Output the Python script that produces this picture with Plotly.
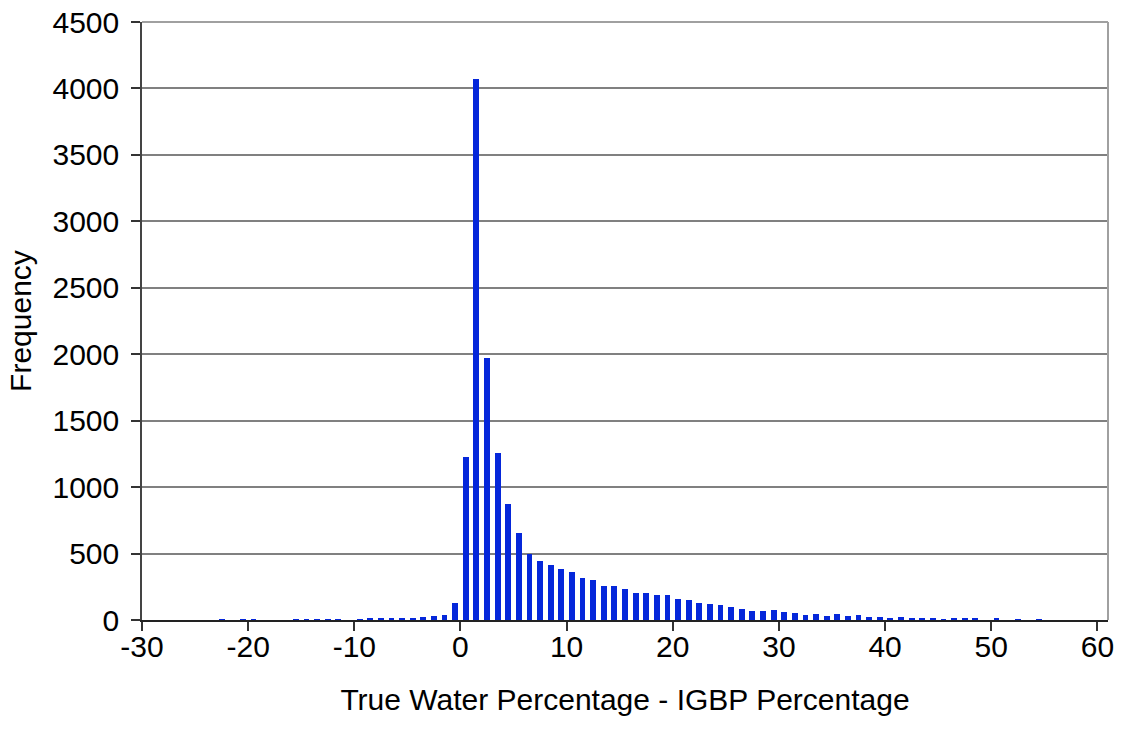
import plotly.graph_objects as go

# Bin centers (True Water % - IGBP %) and frequencies
bin_centers = [
    -22.5, -21.5, -20.5, -19.5, -18.5, -17.5, -16.5, -15.5, -14.5, -13.5,
    -12.5, -11.5, -10.5, -9.5, -8.5, -7.5, -6.5, -5.5, -4.5, -3.5,
    -2.5, -1.5, -0.5, 0.5, 1.5, 2.5, 3.5, 4.5, 5.5, 6.5,
    7.5, 8.5, 9.5, 10.5, 11.5, 12.5, 13.5, 14.5, 15.5, 16.5,
    17.5, 18.5, 19.5, 20.5, 21.5, 22.5, 23.5, 24.5, 25.5, 26.5,
    27.5, 28.5, 29.5, 30.5, 31.5, 32.5, 33.5, 34.5, 35.5, 36.5,
    37.5, 38.5, 39.5, 40.5, 41.5, 42.5, 43.5, 44.5, 45.5, 46.5,
    47.5, 48.5, 49.5, 50.5, 51.5, 52.5, 53.5, 54.5,
]
frequency = [
    3, 0, 3, 3, 0, 0, 0, 3, 3, 3,
    3, 3, 0, 4, 8, 10, 10, 12, 12, 20,
    30, 37, 130, 1230, 4070, 1970, 1255, 870, 654, 494,
    446, 413, 383, 358, 313, 300, 255, 255, 233, 205,
    200, 187, 187, 158, 150, 125, 123, 110, 95, 80,
    65, 68, 73, 58, 50, 37, 45, 30, 43, 30,
    37, 20, 20, 12, 20, 12, 12, 12, 6, 12,
    12, 10, 0, 10, 0, 5, 0, 5,
]

x_ticks = [-30, -20, -10, 0, 10, 20, 30, 40, 50, 60]
y_ticks = [0, 500, 1000, 1500, 2000, 2500, 3000, 3500, 4000, 4500]

x_title = "True Water Percentage - IGBP Percentage"
y_title = "Frequency"

fig = go.Figure()
fig.add_trace(go.Bar(
    x=bin_centers,
    y=frequency,
    width=0.55,
    marker=dict(color="#0527DA", line=dict(width=0)),
    showlegend=False,
))

font = dict(family="Liberation Sans, Arial, sans-serif", size=30, color="black")

fig.update_layout(
    width=1126,
    height=735,
    margin=dict(l=142, r=18, t=22, b=115),
    paper_bgcolor="white",
    plot_bgcolor="white",
    font=font,
    bargap=0,
    xaxis=dict(
        range=[-30, 61],
        tickvals=x_ticks,
        ticktext=[str(v) for v in x_ticks],
        ticks="outside",
        ticklen=9,
        tickwidth=1.5,
        tickcolor="#333333",
        showline=True,
        linecolor="#222222",
        linewidth=1.5,
        showgrid=False,
        zeroline=False,
        automargin=False,
        tickfont=font,
        ticklabelstandoff=-10,
        title=dict(text=x_title, font=font, standoff=27),
    ),
    yaxis=dict(
        range=[0, 4500],
        tickvals=y_ticks,
        ticktext=[str(v) for v in y_ticks],
        ticks="outside",
        ticklen=9,
        tickwidth=1.5,
        tickcolor="#333333",
        showline=True,
        linecolor="#444444",
        linewidth=1.5,
        showgrid=True,
        gridcolor="#808080",
        gridwidth=1.5,
        zeroline=False,
        automargin=False,
        tickfont=font,
        ticklabelstandoff=6,
        title=dict(text=y_title, font=font, standoff=12),
    ),
    shapes=[
        dict(type="line", xref="paper", yref="paper", x0=0, x1=1, y0=1, y1=1,
             line=dict(color="#A0A0A0", width=2)),
        dict(type="line", xref="paper", yref="paper", x0=1, x1=1, y0=0, y1=1,
             line=dict(color="#A0A0A0", width=2)),
    ],
)

fig.write_html(
    "out.html",
    config={"displayModeBar": False},
    post_script="document.body.style.margin='0';",
)
